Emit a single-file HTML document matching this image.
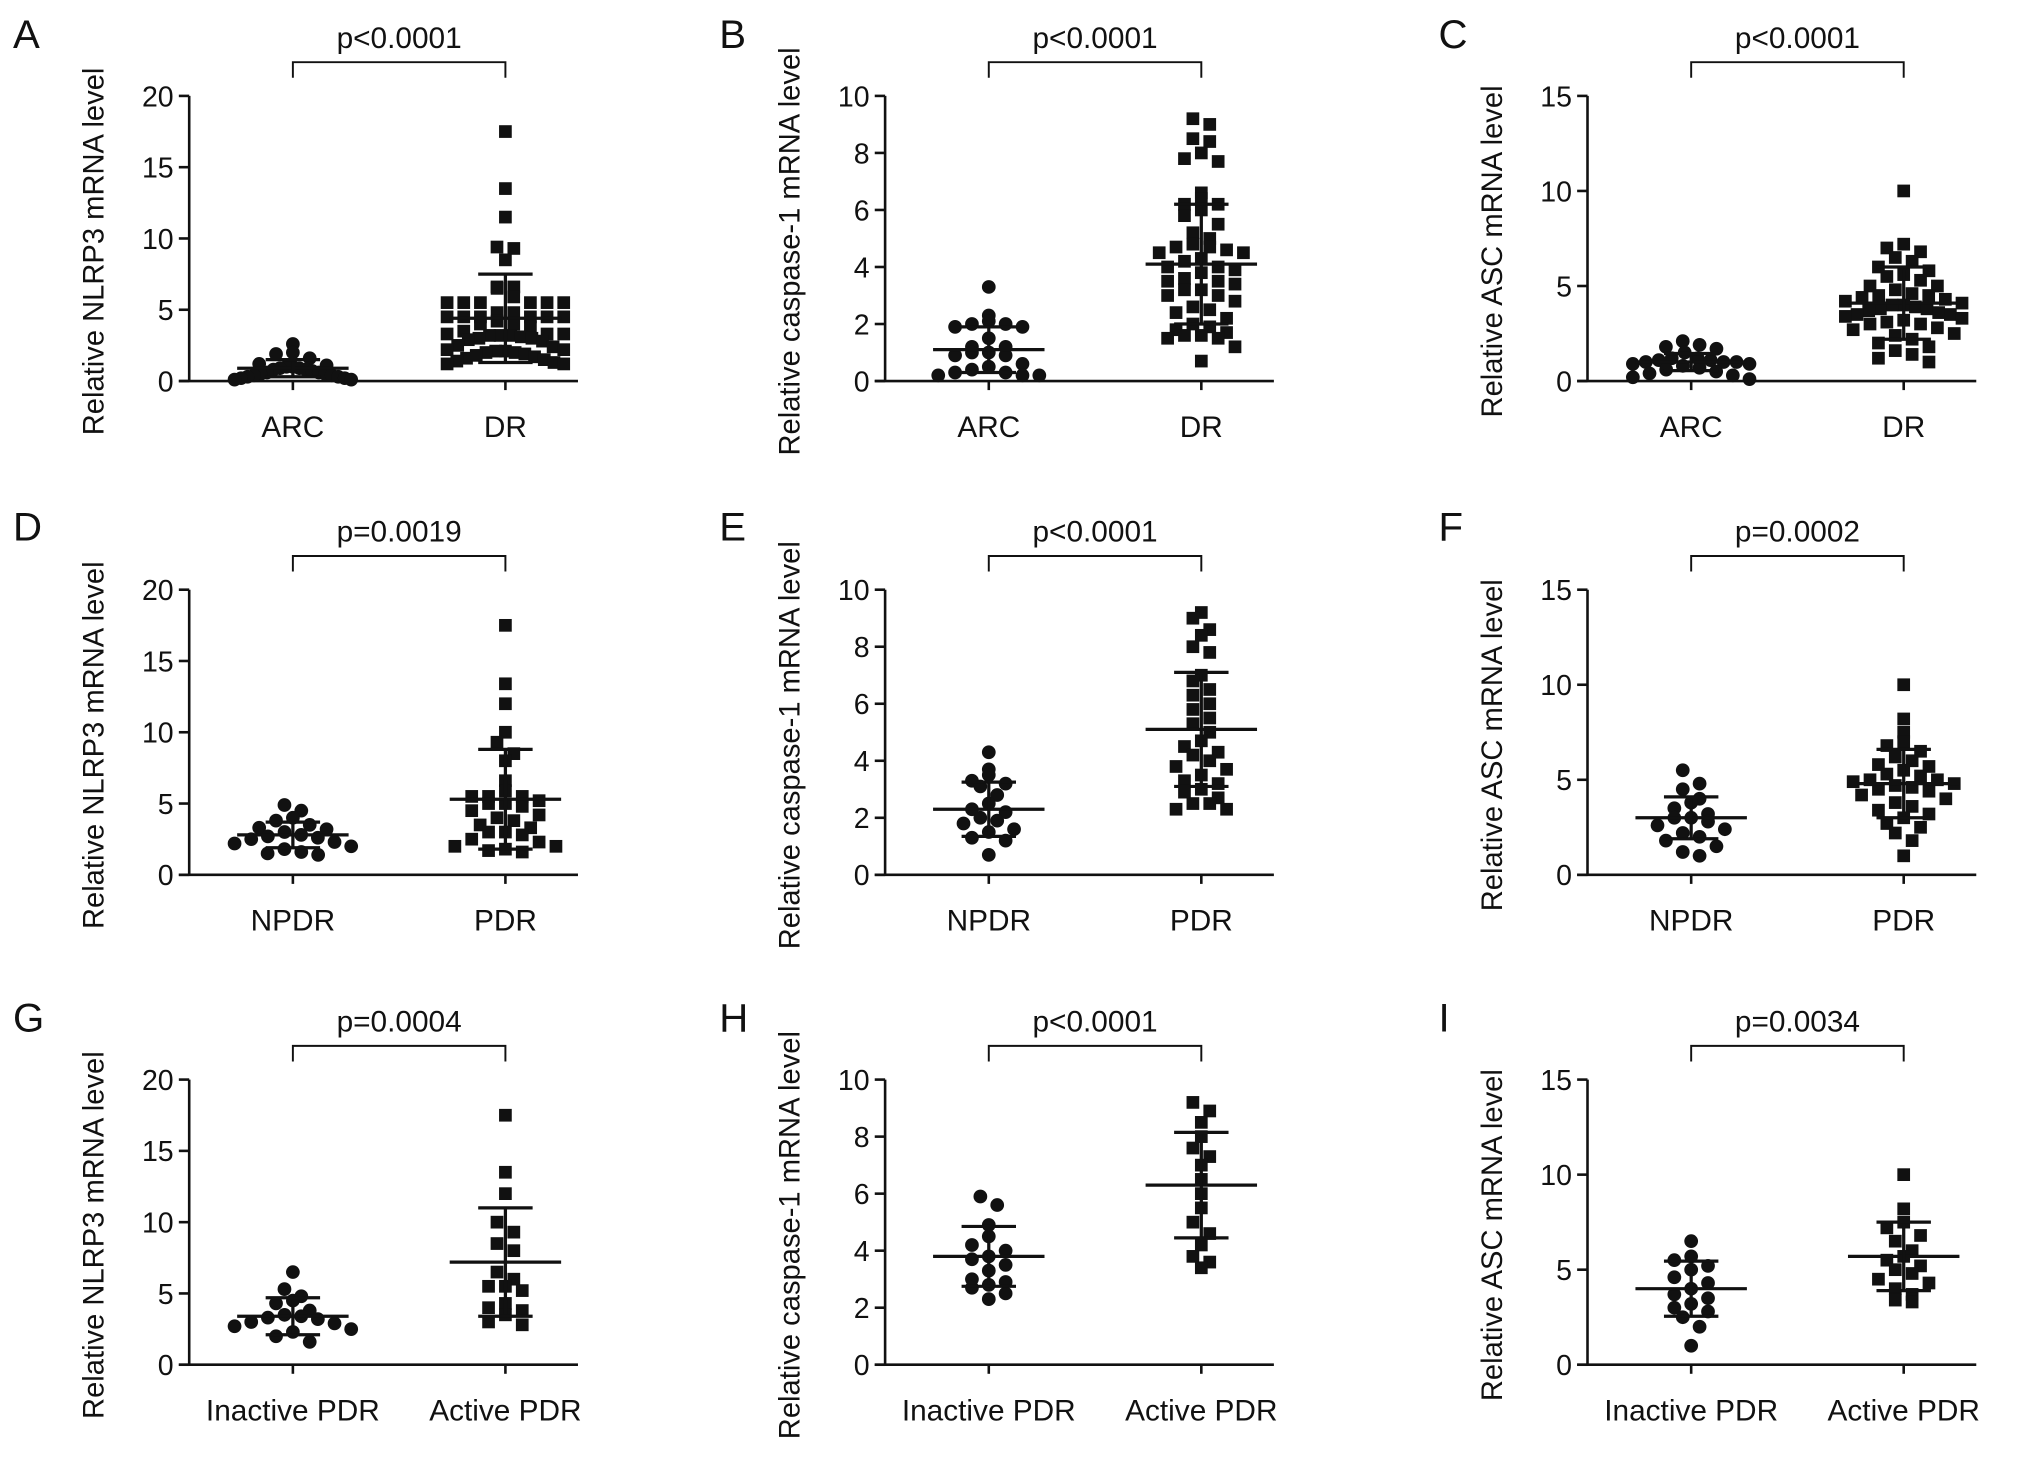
<!DOCTYPE html>
<html><head><meta charset="utf-8">
<style>
html,body{margin:0;padding:0;background:#fff;}
svg{display:block;}
text{font-family:"Liberation Sans",Arial,sans-serif;fill:#111;}
</style></head>
<body>
<svg id="fig" width="2032" height="1471" viewBox="0 0 1568 1135" preserveAspectRatio="none" xmlns="http://www.w3.org/2000/svg"></svg>
<script>
// ---- data ----
const panelLetters = ["A","B","C","D","E","F","G","H","I"];
const yTitles = ["Relative NLRP3 mRNA level","Relative caspase-1 mRNA level","Relative ASC mRNA level"];
const yMaxes = [20,10,15];
const yTickSteps = [5,2,5];
const catRows = [["ARC","DR"],["NPDR","PDR"],["Inactive PDR","Active PDR"]];
const pLabels = ["p<0.0001","p<0.0001","p<0.0001","p=0.0019","p<0.0001","p=0.0002","p=0.0004","p<0.0001","p=0.0034"];

const groupA1 = [2.6,2.0,1.9,1.6,1.2,1.1,1.0,1.0,0.9,0.8,0.8,0.7,0.6,0.6,0.5,0.5,0.4,0.4,0.3,0.3,0.2,0.2,0.1,0.1,0.9];
const groupA2 = [17.5,13.5,11.5,9.3,9.4,8.5,6.6,6.5,6.6,5.9,5.5,5.5,5.5,5.5,5.5,5.5,4.8,4.8,4.5,4.5,4.5,4.5,4.5,4.5,4.2,4.0,4.0,3.8,3.5,3.3,3.3,3.3,3.2,3.2,3.2,3.1,3.0,3.0,2.9,2.8,2.5,2.4,2.2,2.2,2.1,2.1,2.0,2.0,1.9,1.8,1.7,1.6,1.5,1.4,1.3,1.2,1.2];
const groupB1 = [3.3,2.3,2.1,2.0,2.0,1.9,1.9,1.5,1.2,1.2,1.0,1.0,0.9,0.9,0.6,0.5,0.4,0.3,0.3,0.2,0.2,0.2];
const groupB2 = [9.2,9.0,8.5,8.4,8.0,7.8,7.7,6.6,6.4,6.2,6.2,6.0,5.8,5.5,5.2,5.0,4.8,4.7,4.7,4.6,4.5,4.5,4.3,4.2,4.0,4.0,3.9,3.8,3.6,3.5,3.5,3.4,3.2,3.2,3.0,3.0,2.8,2.6,2.5,2.4,2.2,2.0,1.9,1.8,1.7,1.6,1.6,1.5,1.5,1.2,0.7];
const groupC1 = [2.1,1.9,1.8,1.7,1.5,1.2,1.1,1.1,1.0,1.0,0.9,0.9,0.8,0.7,0.6,0.5,0.4,0.3,0.2,0.1,1.0,1.2];
const groupC2 = [10.0,7.2,7.0,6.8,6.5,6.3,6.0,5.8,5.6,5.5,5.3,5.0,5.0,4.8,4.6,4.5,4.4,4.3,4.2,4.1,4.0,4.0,3.9,3.8,3.7,3.6,3.5,3.4,3.3,3.2,3.1,3.0,3.0,2.8,2.7,2.5,2.4,2.2,2.0,1.8,1.6,1.4,1.2,1.0,3.5,4.5,3.8];
const groupD1 = [4.9,4.5,4.0,3.8,3.5,3.3,3.2,3.0,2.8,2.7,2.6,2.5,2.3,2.2,2.0,1.8,1.6,1.5,1.4];
const groupD2 = [17.5,13.4,12.0,10.0,9.3,8.5,8.0,6.6,5.9,5.5,5.5,5.5,5.2,5.0,5.0,4.8,4.5,4.2,4.0,3.8,3.5,3.3,3.0,3.0,2.8,2.5,2.3,2.0,2.0,1.8,1.7,1.6];
const groupE1 = [4.3,3.7,3.5,3.3,3.2,3.1,2.8,2.5,2.3,2.2,2.0,1.9,1.8,1.6,1.5,1.3,1.2,0.7];
const groupE2 = [9.2,9.0,8.6,8.4,8.0,7.8,7.0,6.8,6.5,6.3,6.0,5.8,5.5,5.3,5.0,4.7,4.5,4.3,4.2,4.0,3.8,3.7,3.5,3.3,3.2,3.0,2.9,2.7,2.5,2.5,2.3,2.3];
const groupF1 = [5.5,4.8,4.5,4.0,3.8,3.5,3.2,3.0,3.0,2.8,2.6,2.4,2.2,2.0,1.8,1.5,1.2,1.0];
const groupF2 = [10.0,8.2,7.5,7.0,6.8,6.5,6.2,6.0,5.8,5.5,5.3,5.0,5.0,4.9,4.8,4.7,4.6,4.5,4.4,4.2,4.0,3.8,3.6,3.4,3.2,3.0,2.7,2.5,2.2,1.8,1.0,5.2,5.7];
const groupG1 = [6.5,5.3,4.8,4.5,4.3,3.8,3.5,3.4,3.3,3.2,3.0,2.9,2.7,2.5,2.3,2.0,1.6];
const groupG2 = [17.5,13.5,12.0,10.0,9.3,8.5,8.0,6.5,6.0,5.5,5.5,5.2,4.3,4.0,3.8,3.5,3.0,2.8];
const groupH1 = [5.9,5.6,4.9,4.5,4.2,4.0,3.8,3.7,3.5,3.3,3.0,2.9,2.8,2.7,2.5,2.3];
const groupH2 = [9.2,8.9,8.5,8.0,7.6,7.3,7.0,6.5,6.0,5.5,5.0,4.6,4.2,3.8,3.4,3.6];
const groupI1 = [6.5,5.7,5.5,5.2,5.0,4.6,4.3,4.0,3.7,3.5,3.2,3.0,2.8,2.5,2.0,1.0];
const groupI2 = [10.0,8.2,7.5,7.2,6.8,6.5,6.0,5.7,5.5,5.2,5.0,4.8,4.5,4.3,4.0,3.7,3.4,3.3];
const groups1 = [groupA1,groupB1,groupC1,groupD1,groupE1,groupF1,groupG1,groupH1,groupI1];
const groups2 = [groupA2,groupB2,groupC2,groupD2,groupE2,groupF2,groupG2,groupH2,groupI2];
const means1 = [0.9,1.1,1.0,2.8,2.3,3.0,3.4,3.8,4.0];
const sds1 = [0.6,0.8,0.45,0.9,0.95,1.1,1.3,1.05,1.45];
const means2 = [4.4,4.1,4.1,5.3,5.1,4.8,7.2,6.3,5.7];
const sds2 = [3.1,2.1,1.9,3.5,2.0,1.8,3.8,1.85,1.8];

// ---- drawing ----
const NS = "http://www.w3.org/2000/svg";
const svg = document.getElementById("fig");
function mk(tag, attrs, parent, txt){
  const e = document.createElementNS(NS, tag);
  for (const k in attrs) e.setAttribute(k, attrs[k]);
  if (txt !== undefined) e.textContent = txt;
  (parent||svg).appendChild(e);
  return e;
}
const axisXs = [146,683,1225];
const baseYs = [294,675,1053];
const plotH = 220;

for (let p = 0; p < 9; p++) {
  const col = p % 3, row = Math.floor(p / 3);
  const ax = axisXs[col], y0 = baseYs[row];
  const yMax = yMaxes[col];
  const yScale = v => y0 - v / yMax * plotH;
  const c1 = ax + 80, c2 = ax + 244, xEnd = ax + 300;
  const g = mk("g", {});
  
  

  const letter = mk("text", {x: col===0?10:(col===1?555:1110), y: row*380 + 37 + (row===2?-1:0), "font-size": 31}, g, panelLetters[p]);
  
  

  const yAxis = mk("line", {x1: ax, y1: y0, x2: ax, y2: yScale(yMax), stroke: "#111", "stroke-width": 2}, g);
  
  
  const xAxis = mk("line", {x1: ax - 8, y1: y0, x2: xEnd, y2: y0, stroke: "#111", "stroke-width": 2}, g);
  
  
  for (let v = 0; v <= yMax; v += yTickSteps[col]) {
    const ty = yScale(v);
    const tk = mk("line", {x1: ax - 8, y1: ty, x2: ax, y2: ty, stroke: "#111", "stroke-width": 2}, g);
    
    
    const tl = mk("text", {x: ax - 12, y: ty + 8, "font-size": 22, "text-anchor": "end"}, g, String(v));
    
    
  }
  const cats = catRows[row];
  [c1, c2].forEach((cx, i) => {
    const tk = mk("line", {x1: cx, y1: y0, x2: cx, y2: y0 + 7, stroke: "#111", "stroke-width": 2}, g);
    
    
    const tl = mk("text", {x: cx, y: y0 + 43, "font-size": 23, "text-anchor": "middle"}, g, cats[i]);
    
    
  });
  const tcx = ax - 66, tcy = y0 - 100;
  const yt = mk("text", {x: tcx, y: tcy, "font-size": 22.5, "text-anchor": "middle", transform: `rotate(-90 ${tcx} ${tcy})`}, g, yTitles[col]);
  
  

  const by = y0 - 246;
  const br = mk("path", {d: `M${c1} ${by+12} V${by} H${c2} V${by+12}`, fill: "none", stroke: "#111", "stroke-width": 1.5}, g);
  
  
  const pt = mk("text", {x: (c1 + c2) / 2, y: by - 11, "font-size": 23, "text-anchor": "middle"}, g, pLabels[p]);
  
  

  // points (compressed beeswarm)
  [[groups1[p], c1, "circle"], [groups2[p], c2, "square"]].forEach(([vals, cx, shape]) => {
    const sorted = vals.slice().sort((a, b) => b - a);
    const bins = {};
    sorted.forEach(v => {
      const b = Math.round(yScale(v) / 12);
      (bins[b] = bins[b] || []).push(v);
    });
    Object.keys(bins).forEach(b => {
      const arr = bins[b];
      const n = arr.length;
      const sp = n > 1 ? Math.min(13, 90 / (n - 1)) : 0;
      const slots = [];
      for (let i = 0; i < n; i++) slots.push((i - (n - 1) / 2) * sp);
      slots.sort((a, c) => Math.abs(a) - Math.abs(c));
      arr.forEach((v, i) => {
        const px = cx + slots[i], py = yScale(v);
        let m;
        if (shape === "circle") m = mk("circle", {cx: px, cy: py, r: 5.3, fill: "#111"}, g);
        else m = mk("rect", {x: px - 4.9, y: py - 4.9, width: 9.8, height: 9.8, fill: "#111"}, g);
        
        
      });
    });
  });

  [[means1[p], sds1[p], c1], [means2[p], sds2[p], c2]].forEach(([m, s, cx]) => {
    const lo = Math.max(0, m - s), hi = m + s;
    const e1 = mk("line", {x1: cx - 43, y1: yScale(m), x2: cx + 43, y2: yScale(m), stroke: "#111", "stroke-width": 2.5}, g);
    
    
    const e2 = mk("line", {x1: cx, y1: yScale(lo), x2: cx, y2: yScale(hi), stroke: "#111", "stroke-width": 2.5}, g);
    
    
    [lo, hi].forEach(v => {
      const c = mk("line", {x1: cx - 21, y1: yScale(v), x2: cx + 21, y2: yScale(v), stroke: "#111", "stroke-width": 2.5}, g);
      
      
    });
  });
}
</script>
</body></html>
